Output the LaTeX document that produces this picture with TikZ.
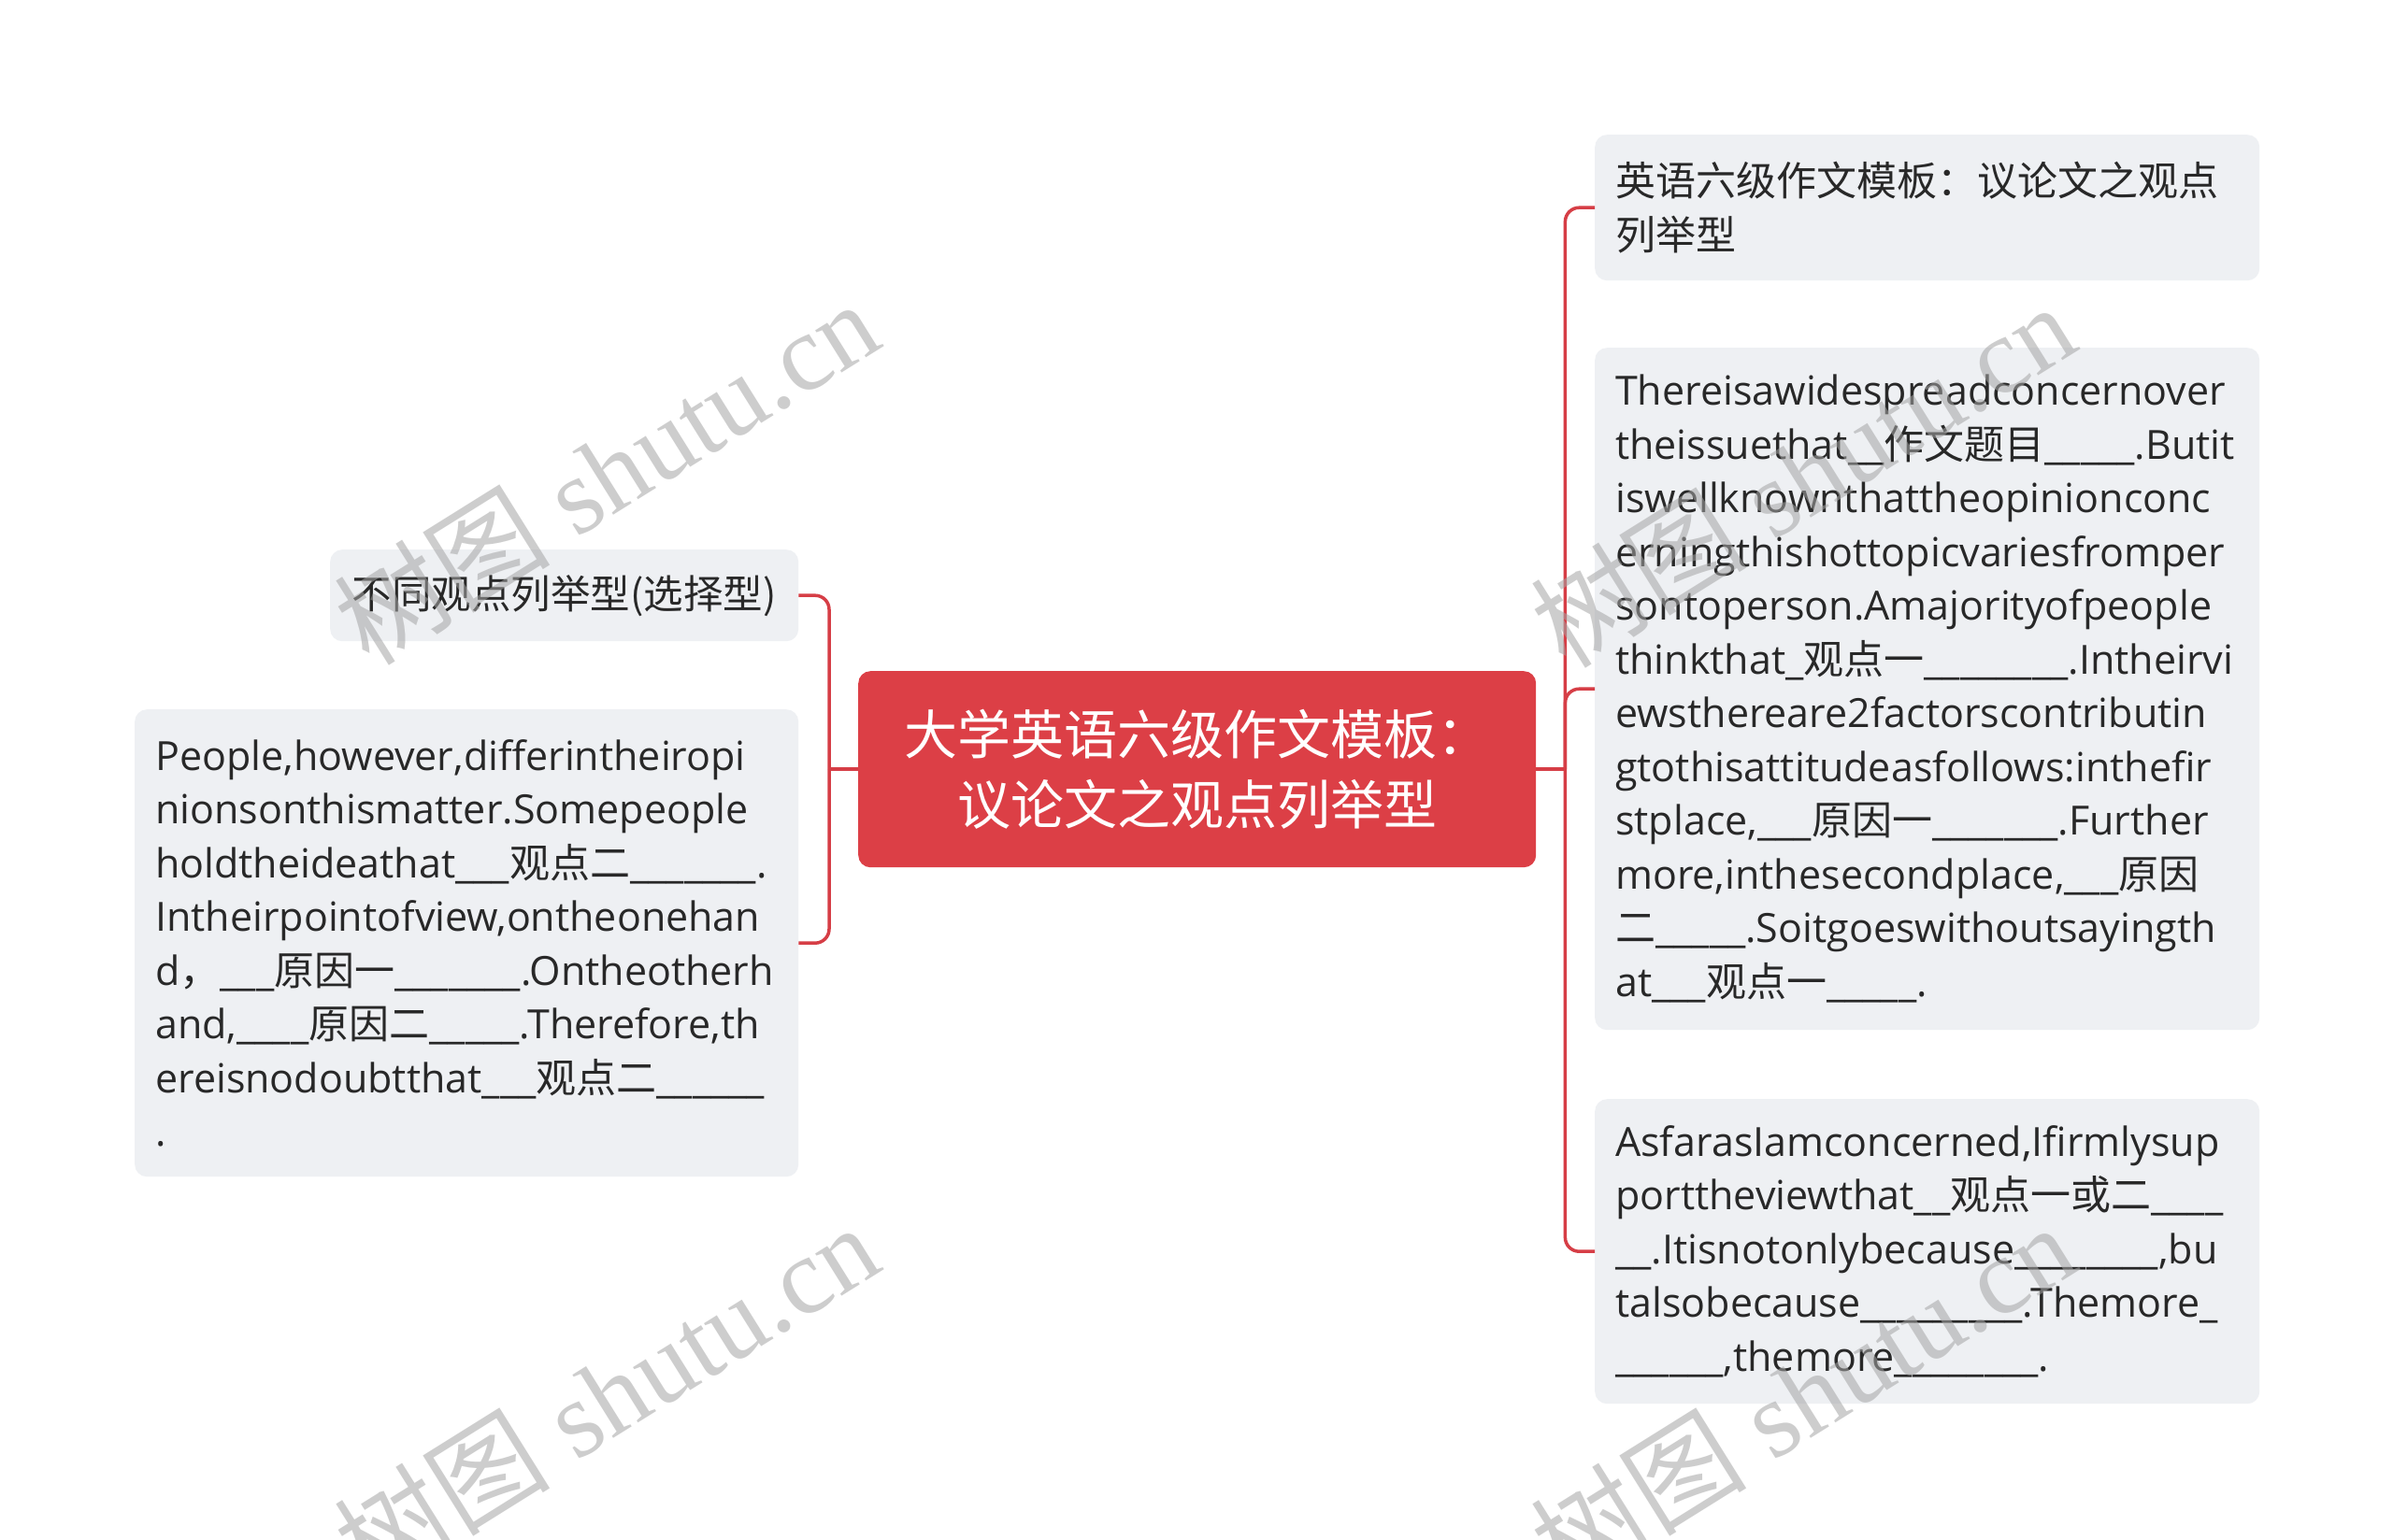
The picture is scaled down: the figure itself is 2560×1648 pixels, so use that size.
\documentclass[tikz,border=0pt]{standalone}
\usepackage{fontspec}
\setmainfont{Open Sans}
\newfontfamily\cjk{Noto Sans CJK SC}
\newfontfamily\wmfont{Liberation Serif}
\hyphenpenalty=10000
\exhyphenpenalty=10000
\definecolor{boxgray}{RGB}{238,240,243}
\definecolor{mainred}{RGB}{220,63,70}
\definecolor{linered}{RGB}{214,62,70}
\definecolor{txt}{RGB}{40,40,40}
\definecolor{wmgray}{RGB}{165,165,165}
\tikzset{
  gbox/.style={fill=boxgray, rounded corners=13pt, text=txt, align=left, anchor=north west,
    inner xsep=22pt, inner ysep=0pt, font=\fontsize{43}{57.5}\selectfont},
  rootbox/.style={fill=mainred, rounded corners=13pt, text=white, align=center, anchor=north west,
    inner sep=0pt, minimum width=725pt, minimum height=210pt, font=\cjk\fontsize{57}{75}\selectfont},
  conn/.style={draw=linered, line width=3.5pt, rounded corners=15pt},
  wm/.style={text=wmgray, opacity=0.55, rotate=32, font=\wmfont\fontsize{116}{116}\selectfont}
}
\begin{document}
\begin{tikzpicture}[x=1pt,y=-1pt]
\path[use as bounding box, fill=white] (0,0) rectangle (2560,1648);

\node[rootbox] (c) at (918,718) {大学英语六级作文模板：\\议论文之观点列举型};

\node[gbox, text width=667pt, minimum height=156pt] (r1) at (1706,144)
 {{\cjk 英语六级作文模板：议论文之观点}\\{\cjk 列举型}};

\node[gbox, text width=667pt, minimum height=730pt] (r2) at (1706,372)
 {Thereisawidespreadconcernover\\
theissuethat\_\_{\cjk 作文题目}\_\_\_\_\_.Butit\\
iswellknownthattheopinionconc\\
erningthishottopicvariesfromper\\
sontoperson.Amajorityofpeople\\
thinkthat\_{\cjk 观点一}\_\_\_\_\_\_\_\_.Intheirvi\\
ewsthereare2factorscontributin\\
gtothisattitudeasfollows:inthefir\\
stplace,\_\_\_{\cjk 原因一}\_\_\_\_\_\_\_.Further\\
more,inthesecondplace,\_\_\_{\cjk 原因}\\
{\cjk 二}\_\_\_\_\_.Soitgoeswithoutsayingth\\
at\_\_\_{\cjk 观点一}\_\_\_\_\_.};

\node[gbox, text width=667pt, minimum height=326pt] (r3) at (1706,1176)
 {AsfarasIamconcerned,Ifirmlysup\\
porttheviewthat\_\_{\cjk 观点一或二}\_\_\_\_\\
\_\_.Itisnotonlybecause\_\_\_\_\_\_\_\_,bu\\
talsobecause\_\_\_\_\_\_\_\_\_.Themore\_\\
\_\_\_\_\_\_,themore\_\_\_\_\_\_\_\_.};

\node[gbox, align=center, inner xsep=0pt, minimum width=501pt, minimum height=98pt,
  font=\cjk\fontsize{42.5}{50}\selectfont] (l1) at (353,588) {不同观点列举型(选择型)};

\node[gbox, text width=666pt, minimum height=500pt] (l2) at (144,759)
 {People,however,differintheiropi\\
nionsonthismatter.Somepeople\\
holdtheideathat\_\_\_{\cjk 观点二}\_\_\_\_\_\_\_.\\
Intheirpointofview,ontheonehan\\
d{\cjk ，}\_\_\_{\cjk 原因一}\_\_\_\_\_\_\_.Ontheotherh\\
and,\_\_\_\_{\cjk 原因二}\_\_\_\_\_.Therefore,th\\
ereisnodoubtthat\_\_\_{\cjk 观点二}\_\_\_\_\_\_\\
.};

% connectors
\draw[conn] (c.east) -- ++(31,0) coordinate (rj);
\draw[conn] (rj) |- (r1.west);
\draw[conn] (rj) |- (r2.west);
\draw[conn] (rj) |- (r3.west);
\draw[conn] (c.west) -- ++(-31,0) coordinate (lj);
\draw[conn] (lj) |- (l1.east);
\draw[conn] (lj) |- (l2.east);

% watermarks
\node[wm] (w1) at (648,505) {{\cjk 树图} shutu.cn};
\node[wm] (w2) at (648,1493) {{\cjk 树图} shutu.cn};
\node[wm] (w3) at (1928,508) {{\cjk 树图} shutu.cn};
\node[wm] (w4) at (1928,1493) {{\cjk 树图} shutu.cn};
\end{tikzpicture}
\end{document}
